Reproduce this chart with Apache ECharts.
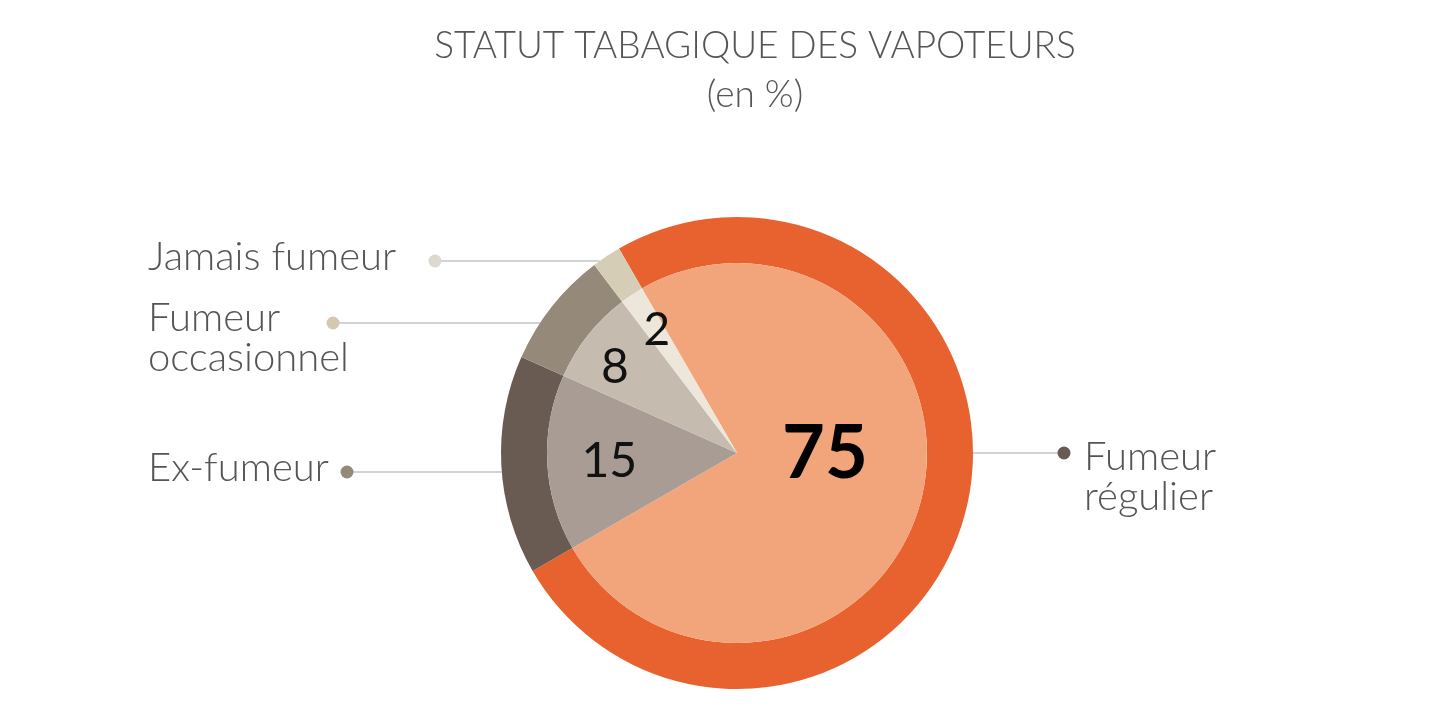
<!DOCTYPE html>
<html>
<head>
<meta charset="utf-8">
<script src="https://cdn.jsdelivr.net/npm/echarts@6/dist/echarts.min.js"></script>
<style>
  html, body { margin: 0; padding: 0; background: #fff; }
  #chart { width: 1440px; height: 720px; }
</style>
</head>
<body>
<div id="chart"></div>
<script>
// data
const categories = ['Fumeur régulier', 'Ex-fumeur', 'Fumeur occasionnel', 'Jamais fumeur'];
const labelTexts = ['Fumeur\nrégulier', 'Ex-fumeur', 'Fumeur\noccasionnel', 'Jamais fumeur'];
const values = [75, 15, 8, 2];

// styles
const outerColors = ['#e8622f', '#6a5b52', '#958a7a', '#d6cdb7'];
const innerColors = ['#f2a57b', '#a89c95', '#c5bcaf', '#ede7db'];
const dotColors = ['#6a5b52', '#958a7a', '#d4c8b0', '#ddd8d0'];
const CENTER = [737, 453];
const R_OUT = 236;
const R_IN = 190;
// callout lines: y of the line, x of the dot, x where the text starts, text shift
const calloutY = [453, 472, 323, 261];
const dotX = [1064, 347, 333, 435];
const textX = [1084, 148, 148, 148];
const textDy = [4, -4, -5, -4];
// value labels: [angle clockwise from top (deg), distance from centre]
const valuePolar = [[91, 88], [266, 128], [305, 149], [327, 147]];
const valueSize = [74, 48, 48, 46];

const FONT = 'Lato, "Noto Sans", sans-serif';

const chart = echarts.init(document.getElementById('chart'));

const edgeX = (i) => {
  const dy = calloutY[i] - CENTER[1];
  const dx = Math.sqrt(Math.max(R_OUT * R_OUT - dy * dy, 0));
  return i === 0 ? CENTER[0] + dx : CENTER[0] - dx;
};

chart.setOption({
  animation: false,
  title: {
    text: 'STATUT TABAGIQUE DES VAPOTEURS',
    subtext: '(en %)',
    left: 750,
    textAlign: 'center',
    top: 23,
    itemGap: 12,
    textStyle: { fontFamily: FONT, fontSize: 37, fontWeight: 300, color: '#555' },
    subtextStyle: { fontFamily: FONT, fontSize: 37, fontWeight: 300, color: '#555' },
  },
  series: [
    {
      // outer ring, with callout lines and dots
      type: 'pie',
      center: CENTER,
      radius: [R_IN, R_OUT],
      startAngle: 120,
      clockwise: true,
      avoidLabelOverlap: false,
      silent: true,
      itemStyle: { borderWidth: 0 },
      label: {
        show: true,
        position: 'outside',
        formatter: (p) => `{d${p.dataIndex}|}`,
        rich: dotColors.reduce((acc, c, i) => {
          acc[`d${i}`] = { width: 13, height: 13, borderRadius: 7, backgroundColor: c };
          return acc;
        }, {}),
      },
      labelLine: { show: true, lineStyle: { color: '#d3d3d3', width: 2 } },
      labelLayout: (params) => {
        const i = params.dataIndex;
        const y = calloutY[i];
        return {
          x: dotX[i],
          y,
          align: 'center',
          verticalAlign: 'middle',
          labelLinePoints: [[edgeX(i), y], [dotX[i], y], [dotX[i], y]],
        };
      },
      data: categories.map((name, i) => ({
        name,
        value: values[i],
        itemStyle: { color: outerColors[i] },
      })),
    },
    {
      // inner pie with the values
      type: 'pie',
      center: CENTER,
      radius: [0, R_IN],
      startAngle: 120,
      clockwise: true,
      avoidLabelOverlap: false,
      silent: true,
      itemStyle: { borderWidth: 0 },
      label: {
        show: true,
        position: 'inside',
        fontFamily: FONT,
        color: '#111',
        formatter: '{c}',
      },
      labelLine: { show: false },
      labelLayout: (params) => {
        const [a, r] = valuePolar[params.dataIndex];
        const rad = (a * Math.PI) / 180;
        return {
          x: CENTER[0] + r * Math.sin(rad),
          y: CENTER[1] - r * Math.cos(rad),
          align: 'center',
          verticalAlign: 'middle',
        };
      },
      data: categories.map((name, i) => ({
        name,
        value: values[i],
        itemStyle: { color: innerColors[i] },
        label: {
          fontSize: valueSize[i],
          fontWeight: i === 0 ? 'bold' : 'normal',
          color: i === 0 ? '#000' : '#111',
        },
      })),
    },
    {
      // category names (transparent copy of the pie, only carries the texts)
      type: 'pie',
      center: CENTER,
      radius: [0, R_OUT],
      startAngle: 120,
      clockwise: true,
      avoidLabelOverlap: false,
      silent: true,
      itemStyle: { color: 'rgba(0,0,0,0)', borderWidth: 0 },
      label: {
        show: true,
        position: 'outside',
        fontFamily: FONT,
        fontSize: 40,
        fontWeight: 300,
        lineHeight: 40,
        color: '#555',
        formatter: (p) => labelTexts[p.dataIndex],
      },
      labelLine: { show: false },
      labelLayout: (params) => {
        const i = params.dataIndex;
        return {
          x: textX[i],
          y: calloutY[i] - 20 + textDy[i],
          align: 'left',
          verticalAlign: 'top',
        };
      },
      data: categories.map((name, i) => ({ name, value: values[i] })),
    },
  ],
});
</script>
</body>
</html>
